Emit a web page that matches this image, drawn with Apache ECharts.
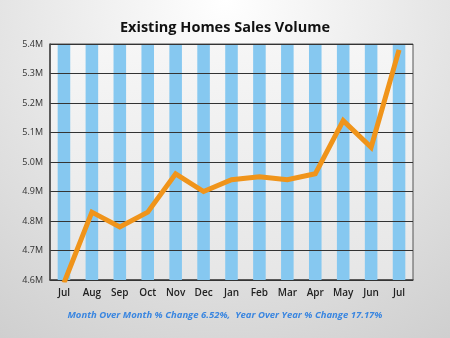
<!DOCTYPE html>
<html>
<head>
<meta charset="utf-8">
<script src="https://cdn.jsdelivr.net/npm/echarts@6/dist/echarts.min.js"></script>
<style>
  html, body { margin: 0; padding: 0; }
  #chart { width: 450px; height: 338px; }
</style>
</head>
<body>
<div id="chart"></div>
<script>
// Monthly existing home sales (millions, seasonally adjusted annual rate)
const months = ['Jul', 'Aug', 'Sep', 'Oct', 'Nov', 'Dec', 'Jan', 'Feb', 'Mar', 'Apr', 'May', 'Jun', 'Jul'];
const salesVolume = [4.59, 4.83, 4.78, 4.83, 4.96, 4.90, 4.94, 4.95, 4.94, 4.96, 5.14, 5.05, 5.38];
const yMin = 4.6;
const yMax = 5.4;
const yStep = 0.1;
const footerText = 'Month Over Month % Change 6.52%,  Year Over Year % Change 17.17%';

// Full-height stripes behind each month
const stripes = months.map(() => yMax);

const chart = echarts.init(document.getElementById('chart'));
chart.setOption({
  animation: false,
  backgroundColor: {
    type: 'radial', x: 0.5, y: 0, r: 1.2,
    colorStops: [
      { offset: 0, color: '#ffffff' },
      { offset: 1, color: '#cfcfcf' }
    ]
  },
  title: {
    text: 'Existing Homes Sales Volume',
    left: 'center',
    top: 15,
    textStyle: { fontFamily: 'Open Sans', fontWeight: 'bold', fontSize: 14.5, color: '#111' }
  },
  graphic: [{
    type: 'text',
    left: 'center',
    top: 310,
    style: {
      text: footerText,
      fill: '#3a86e0',
      font: 'italic bold 9.5px "Open Sans"'
    }
  }],
  grid: {
    left: 50, right: 37, top: 44, bottom: 58,
    show: true,
    borderColor: '#555',
    borderWidth: 1,
    backgroundColor: {
      type: 'linear', x: 0, y: 0, x2: 0, y2: 1,
      colorStops: [
        { offset: 0, color: '#f6f6f6' },
        { offset: 1, color: '#e6e6e6' }
      ]
    }
  },
  xAxis: {
    type: 'category',
    data: months,
    axisLine: { lineStyle: { color: '#444', width: 1.5 } },
    axisTick: { alignWithLabel: true, length: 3, lineStyle: { color: '#666' } },
    axisLabel: { color: '#222', fontFamily: 'Open Sans', fontSize: 10, fontWeight: 600, margin: 8 }
  },
  yAxis: {
    type: 'value',
    min: yMin, max: yMax, interval: yStep,
    z: 3,
    axisLine: { show: true, lineStyle: { color: '#444', width: 1.5 } },
    axisTick: { show: false },
    splitLine: { lineStyle: { color: '#333', width: 1 } },
    axisLabel: {
      color: '#333', fontFamily: 'Open Sans', fontSize: 9, margin: 7,
      formatter: v => v.toFixed(1) + 'M'
    }
  },
  series: [
    {
      type: 'bar',
      data: stripes,
      barWidth: '45%',
      z: 1,
      silent: true,
      itemStyle: { color: '#86c8f0' }
    },
    {
      type: 'line',
      data: salesVolume,
      z: 5,
      clip: true,
      symbol: 'none',
      lineStyle: { color: '#f0941a', width: 5, join: 'miter' }
    }
  ]
});
</script>
</body>
</html>
